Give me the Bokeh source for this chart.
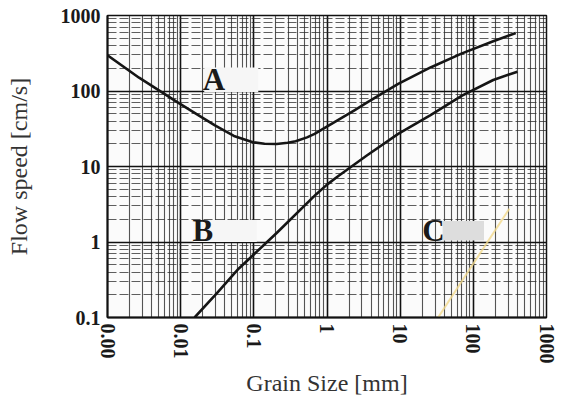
from bokeh.plotting import figure
from bokeh.models import Range1d, FixedTicker, ColumnDataSource
from bokeh.core.properties import value
from bokeh.embed import file_html
from bokeh.resources import INLINE

# ---- data ----
x_tick_values = [0.001, 0.01, 0.1, 1, 10, 100, 1000]
x_tick_labels = ["0.00", "0.01", "0.1", "1", "10", "100", "1000"]
y_tick_values = [0.1, 1, 10, 100, 1000]
y_tick_labels = ["0.1", "1", "10", "100", "1000"]

# curve A (erosion)
a_x = [0.001, 0.0027, 0.00887, 0.0161, 0.0294, 0.0534, 0.097, 0.14, 0.205, 0.29, 0.373,
       0.533, 0.678, 0.86, 2.4, 3.5, 9.4, 26, 70, 187, 380]
a_y = [297, 150, 71.7, 50.2, 35, 25.4, 21, 20, 19.9, 20.6, 21.6,
       24.3, 27, 31, 56, 70, 124, 205, 315, 455, 585]
# curve B (deposition)
b_x = [0.0155, 0.032, 0.0619, 0.205, 0.713, 1.0, 1.43, 3.5, 9.4, 26, 70, 187, 400]
b_y = [0.1, 0.215, 0.443, 1.315, 4.3, 5.75, 7.5, 14, 27, 48, 87, 140, 180]

# region labels
label_text = ["A", "B", "C"]
label_x = [0.02, 0.0145, 20]
label_y = [140, 1.42, 1.42]
box_left = [0.021, 0.015, 38]
box_right = [0.115, 0.11, 140]
box_bottom = [97, 1.0, 1.05]
box_top = [205, 1.95, 1.9]
box_color = ["#f6f6f6", "#f6f6f6", "#dddddd"]

# faint watermark stroke seen on the scan
wm_x = [33, 310]
wm_y = [0.1, 2.76]

# grid minor positions (1..9 per decade)
x_minor = [m * 10.0 ** e for e in range(-3, 3) for m in range(2, 10)]
y_minor = [m * 10.0 ** e for e in range(-1, 3) for m in range(2, 10)]

p = figure(width=556, height=398, x_axis_type="log", y_axis_type="log",
           x_range=Range1d(0.001, 1000), y_range=Range1d(0.1, 1000),
           output_backend="svg", toolbar_location=None,
           min_border_left=107, min_border_right=10, min_border_top=15, min_border_bottom=78)
p.background_fill_color = "#fbfbfb"
p.border_fill_color = "white"
p.outline_line_color = "#111111"
p.outline_line_width = 1.5

p.xaxis.ticker = FixedTicker(ticks=x_tick_values, minor_ticks=x_minor)
p.yaxis.ticker = FixedTicker(ticks=y_tick_values, minor_ticks=y_minor)
p.xaxis.major_label_overrides = {v: l for v, l in zip(x_tick_values, x_tick_labels)}
p.yaxis.major_label_overrides = {v: l for v, l in zip(y_tick_values, y_tick_labels)}
p.xaxis.major_label_orientation = "vertical"

for ax in (p.xaxis, p.yaxis):
    ax.major_label_text_font = "Liberation Serif"
    ax.major_label_text_font_style = "bold"
    ax.major_label_text_font_size = "20px"
    ax.major_label_text_color = "#1a1a1a"
    ax.axis_label_text_font = "Liberation Serif"
    ax.axis_label_text_font_style = "normal"
    ax.axis_label_text_font_size = "24px"
    ax.axis_label_text_color = "#333333"
    ax.major_tick_out = 0
    ax.major_tick_in = 0
    ax.minor_tick_out = 0
    ax.minor_tick_in = 0
    ax.axis_line_color = "#111111"
    ax.axis_line_width = 2
p.xaxis.major_label_standoff = 6
p.yaxis.major_label_standoff = 7
p.xaxis.axis_label = "Grain Size [mm]"
p.yaxis.axis_label = "Flow speed [cm/s]"
p.xaxis.axis_label_standoff = 3
p.yaxis.axis_label_standoff = 26

p.xgrid.grid_line_color = "#111111"
p.xgrid.grid_line_width = 1.6
p.ygrid.grid_line_color = "#111111"
p.ygrid.grid_line_width = 1.6
p.xgrid.minor_grid_line_color = "#2a2a2a"
p.xgrid.minor_grid_line_alpha = 0.8
p.xgrid.minor_grid_line_width = 1.1
p.ygrid.minor_grid_line_color = "#2a2a2a"
p.ygrid.minor_grid_line_alpha = 0.75
p.ygrid.minor_grid_line_width = 1.1
p.ygrid.minor_grid_line_dash = "9 3"

p.line(wm_x, wm_y, line_color="#f3d98c", line_width=2, line_alpha=0.8)
p.quad(left=box_left, right=box_right, bottom=box_bottom, top=box_top,
       fill_color=box_color, line_color=None)
p.line(a_x, a_y, line_color="#151515", line_width=2.6, line_join="round")
p.line(b_x, b_y, line_color="#151515", line_width=2.6, line_join="round")

src = ColumnDataSource(dict(x=label_x, y=label_y, t=label_text))
p.text(x="x", y="y", text="t", source=src, text_font=value("Liberation Serif"),
       text_font_style="bold", text_font_size="31px", text_color="#1a1a1a",
       text_align="left", text_baseline="middle")

open("out.html", "w").write(file_html(p, INLINE))
